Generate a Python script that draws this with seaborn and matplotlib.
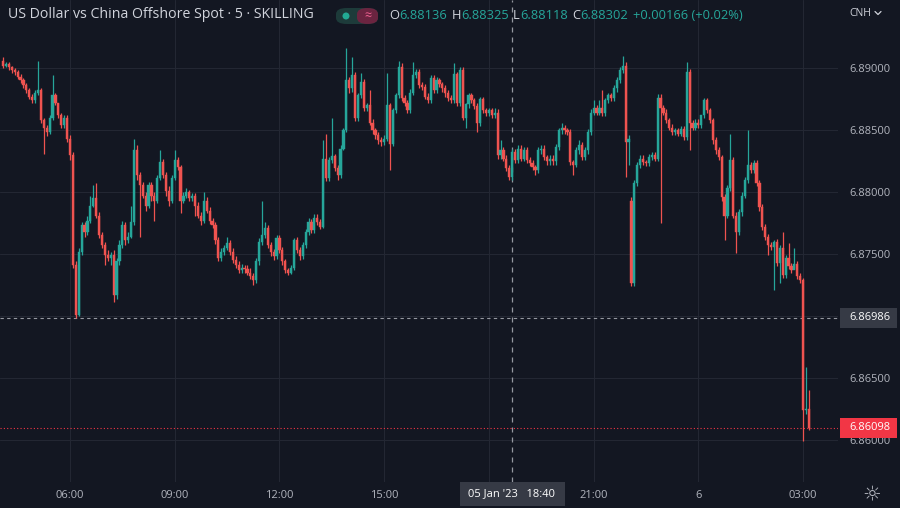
import numpy as np
import pandas as pd
import matplotlib.pyplot as plt
import matplotlib.transforms as mtransforms
from matplotlib.patches import Rectangle, FancyBboxPatch, Ellipse
import seaborn as sns

# USD/CNH 5-minute candles, 05 Jan 2023 04:05 -> 06 Jan 2023 03:10 (one hour per row)
opens = [
    6.8906, 6.8902, 6.8903, 6.8901, 6.8898, 6.8897, 6.8893, 6.8890, 6.8886, 6.8882, 6.8877, 6.8874,
    6.8880, 6.8882, 6.8858, 6.8852, 6.8848, 6.8860, 6.8878, 6.8872, 6.8862, 6.8854, 6.8860, 6.8843,
    6.8830, 6.8741, 6.8701, 6.8752, 6.8773, 6.8768, 6.8777, 6.8789, 6.8795, 6.8781, 6.8765, 6.8757,
    6.8749, 6.8747, 6.8749, 6.8717, 6.8744, 6.8757, 6.8773, 6.8761, 6.8764, 6.8776, 6.8834, 6.8814,
    6.8806, 6.8797, 6.8789, 6.8806, 6.8797, 6.8793, 6.8811, 6.8824, 6.8814, 6.8801, 6.8793, 6.8811,
    6.8826, 6.8820, 6.8793, 6.8797, 6.8800, 6.8795, 6.8797, 6.8789, 6.8781, 6.8777, 6.8793, 6.8785,
    6.8777, 6.8773, 6.8761, 6.8747, 6.8752, 6.8755, 6.8759, 6.8752, 6.8745, 6.8741, 6.8737, 6.8739,
    6.8738, 6.8735, 6.8732, 6.8729, 6.8744, 6.8760, 6.8765, 6.8771, 6.8757, 6.8752, 6.8748, 6.8763,
    6.8753, 6.8744, 6.8737, 6.8735, 6.8739, 6.8761, 6.8753, 6.8748, 6.8757, 6.8768, 6.8776, 6.8769,
    6.8779, 6.8776, 6.8772, 6.8827, 6.8811, 6.8826, 6.8829, 6.8819, 6.8814, 6.8835, 6.8850, 6.8890,
    6.8884, 6.8894, 6.8860, 6.8878, 6.8889, 6.8868, 6.8870, 6.8856, 6.8850, 6.8846, 6.8842, 6.8840,
    6.8843, 6.8870, 6.8839, 6.8866, 6.8878, 6.8901, 6.8876, 6.8872, 6.8866, 6.8880, 6.8894, 6.8897,
    6.8886, 6.8885, 6.8877, 6.8874, 6.8892, 6.8882, 6.8890, 6.8887, 6.8884, 6.8880, 6.8876, 6.8874,
    6.8895, 6.8872, 6.8898, 6.8860, 6.8871, 6.8878, 6.8874, 6.8869, 6.8856, 6.8875, 6.8866, 6.8864,
    6.8866, 6.8862, 6.8864, 6.8830, 6.8834, 6.8827, 6.8819, 6.8812, 6.8832, 6.8826, 6.8835, 6.8827,
    6.8834, 6.8826, 6.8823, 6.8820, 6.8818, 6.8834, 6.8835, 6.8828, 6.8825, 6.8827, 6.8825, 6.8836,
    6.8850, 6.8852, 6.8850, 6.8848, 6.8824, 6.8822, 6.8834, 6.8838, 6.8828, 6.8834, 6.8848, 6.8864,
    6.8868, 6.8864, 6.8868, 6.8864, 6.8874, 6.8878, 6.8876, 6.8884, 6.8890, 6.8898, 6.8902, 6.8840,
    6.8793, 6.8727, 6.8807, 6.8822, 6.8827, 6.8824, 6.8823, 6.8828, 6.8830, 6.8827, 6.8876, 6.8868,
    6.8864, 6.8858, 6.8852, 6.8848, 6.8850, 6.8847, 6.8851, 6.8844, 6.8897, 6.8856, 6.8852, 6.8856,
    6.8854, 6.8862, 6.8874, 6.8866, 6.8858, 6.8842, 6.8834, 6.8828, 6.8796, 6.8781, 6.8803, 6.8826,
    6.8781, 6.8768, 6.8784, 6.8797, 6.8810, 6.8822, 6.8818, 6.8823, 6.8807, 6.8788, 6.8772, 6.8764,
    6.8757, 6.8756, 6.8760, 6.8743, 6.8755, 6.8733, 6.8747, 6.8740, 6.8737, 6.8742, 6.8732, 6.8729,
    6.8624, 6.8625,
]
highs = [
    6.8909, 6.8905, 6.8905, 6.8902, 6.8900, 6.8898, 6.8895, 6.8892, 6.8888, 6.8884, 6.8879, 6.8882,
    6.8906, 6.8884, 6.8860, 6.8854, 6.8862, 6.8894, 6.8880, 6.8872, 6.8864, 6.8862, 6.8862, 6.8846,
    6.8832, 6.8744, 6.8755, 6.8776, 6.8776, 6.8781, 6.8797, 6.8806, 6.8807, 6.8784, 6.8768, 6.8760,
    6.8753, 6.8752, 6.8753, 6.8747, 6.8761, 6.8777, 6.8776, 6.8768, 6.8789, 6.8843, 6.8838, 6.8816,
    6.8808, 6.8800, 6.8808, 6.8808, 6.8800, 6.8814, 6.8834, 6.8827, 6.8816, 6.8805, 6.8814, 6.8834,
    6.8828, 6.8822, 6.8800, 6.8803, 6.8802, 6.8799, 6.8799, 6.8792, 6.8784, 6.8800, 6.8796, 6.8788,
    6.8779, 6.8776, 6.8764, 6.8755, 6.8757, 6.8764, 6.8761, 6.8755, 6.8748, 6.8744, 6.8742, 6.8741,
    6.8741, 6.8739, 6.8735, 6.8747, 6.8763, 6.8793, 6.8776, 6.8773, 6.8760, 6.8754, 6.8765, 6.8765,
    6.8756, 6.8746, 6.8739, 6.8741, 6.8763, 6.8764, 6.8756, 6.8760, 6.8770, 6.8779, 6.8778, 6.8782,
    6.8782, 6.8778, 6.8842, 6.8847, 6.8828, 6.8860, 6.8831, 6.8822, 6.8838, 6.8852, 6.8916, 6.8893,
    6.8909, 6.8897, 6.8880, 6.8896, 6.8891, 6.8872, 6.8882, 6.8859, 6.8852, 6.8848, 6.8844, 6.8846,
    6.8896, 6.8872, 6.8868, 6.8880, 6.8906, 6.8904, 6.8878, 6.8874, 6.8883, 6.8905, 6.8899, 6.8899,
    6.8889, 6.8887, 6.8880, 6.8894, 6.8894, 6.8893, 6.8892, 6.8889, 6.8886, 6.8882, 6.8878, 6.8904,
    6.8897, 6.8901, 6.8901, 6.8872, 6.8880, 6.8880, 6.8876, 6.8872, 6.8877, 6.8877, 6.8868, 6.8868,
    6.8868, 6.8868, 6.8867, 6.8842, 6.8836, 6.8830, 6.8822, 6.8835, 6.8835, 6.8838, 6.8838, 6.8836,
    6.8836, 6.8828, 6.8826, 6.8822, 6.8836, 6.8838, 6.8838, 6.8830, 6.8830, 6.8830, 6.8839, 6.8852,
    6.8856, 6.8854, 6.8852, 6.8851, 6.8826, 6.8836, 6.8842, 6.8840, 6.8836, 6.8851, 6.8867, 6.8874,
    6.8870, 6.8874, 6.8882, 6.8876, 6.8880, 6.8880, 6.8886, 6.8893, 6.8901, 6.8910, 6.8905, 6.8846,
    6.8796, 6.8810, 6.8824, 6.8830, 6.8830, 6.8826, 6.8831, 6.8832, 6.8832, 6.8879, 6.8879, 6.8870,
    6.8867, 6.8860, 6.8855, 6.8852, 6.8852, 6.8853, 6.8853, 6.8905, 6.8899, 6.8858, 6.8859, 6.8859,
    6.8859, 6.8876, 6.8876, 6.8868, 6.8860, 6.8844, 6.8836, 6.8830, 6.8798, 6.8806, 6.8847, 6.8828,
    6.8784, 6.8786, 6.8800, 6.8812, 6.8850, 6.8824, 6.8826, 6.8826, 6.8810, 6.8790, 6.8774, 6.8766,
    6.8760, 6.8761, 6.8762, 6.8757, 6.8768, 6.8749, 6.8759, 6.8743, 6.8755, 6.8744, 6.8735, 6.8731,
    6.8659, 6.8640,
]
lows = [
    6.8900, 6.8901, 6.8898, 6.8896, 6.8894, 6.8891, 6.8888, 6.8884, 6.8880, 6.8875, 6.8872, 6.8872,
    6.8878, 6.8856, 6.8831, 6.8845, 6.8847, 6.8858, 6.8870, 6.8860, 6.8852, 6.8852, 6.8840, 6.8826,
    6.8739, 6.86986, 6.8700, 6.8749, 6.8764, 6.8765, 6.8775, 6.8788, 6.8779, 6.8763, 6.8755, 6.8741,
    6.8744, 6.8741, 6.8711, 6.8714, 6.8741, 6.8755, 6.8757, 6.8759, 6.8763, 6.8773, 6.8810, 6.8764,
    6.8795, 6.8785, 6.8787, 6.8793, 6.8777, 6.8791, 6.8810, 6.8811, 6.8797, 6.8789, 6.8791, 6.8810,
    6.8818, 6.8783, 6.8791, 6.8795, 6.8793, 6.8793, 6.8781, 6.8779, 6.8773, 6.8775, 6.8783, 6.8774,
    6.8771, 6.8758, 6.8744, 6.8744, 6.8749, 6.8753, 6.8749, 6.8743, 6.8739, 6.8735, 6.8735, 6.8735,
    6.8733, 6.8730, 6.8725, 6.8727, 6.8741, 6.8757, 6.8763, 6.8755, 6.8748, 6.8745, 6.8746, 6.8751,
    6.8741, 6.8735, 6.8733, 6.8734, 6.8737, 6.8751, 6.8745, 6.8746, 6.8755, 6.8765, 6.8767, 6.8767,
    6.8773, 6.8770, 6.8771, 6.8809, 6.8809, 6.8823, 6.8817, 6.8810, 6.8811, 6.8834, 6.8848, 6.8880,
    6.8881, 6.8857, 6.8857, 6.8876, 6.8865, 6.8865, 6.8854, 6.8847, 6.8843, 6.8839, 6.8837, 6.8838,
    6.8841, 6.8818, 6.8837, 6.8864, 6.8876, 6.8873, 6.8869, 6.8864, 6.8864, 6.8878, 6.8892, 6.8884,
    6.8882, 6.8875, 6.8872, 6.8872, 6.8880, 6.8880, 6.8885, 6.8881, 6.8877, 6.8873, 6.8872, 6.8872,
    6.8869, 6.8869, 6.8858, 6.8852, 6.8868, 6.8872, 6.8867, 6.8848, 6.8853, 6.8864, 6.8861, 6.8861,
    6.8860, 6.8860, 6.8827, 6.8827, 6.8825, 6.8817, 6.8810, 6.8810, 6.8823, 6.8823, 6.8825, 6.8825,
    6.8823, 6.8821, 6.8818, 6.8814, 6.8815, 6.8831, 6.8826, 6.8822, 6.8822, 6.8822, 6.8822, 6.8834,
    6.8847, 6.8847, 6.8846, 6.8822, 6.8814, 6.8820, 6.8831, 6.8826, 6.8826, 6.8831, 6.8846, 6.8862,
    6.8862, 6.8862, 6.8861, 6.8861, 6.8872, 6.8873, 6.8873, 6.8881, 6.8888, 6.8896, 6.8812, 6.8822,
    6.8724, 6.8724, 6.8805, 6.8819, 6.8822, 6.8821, 6.8821, 6.8826, 6.8825, 6.8825, 6.8775, 6.8862,
    6.8856, 6.8850, 6.8846, 6.8846, 6.8845, 6.8845, 6.8842, 6.8842, 6.8834, 6.8850, 6.8850, 6.8852,
    6.8852, 6.8860, 6.8864, 6.8856, 6.8839, 6.8831, 6.8826, 6.8793, 6.8761, 6.8779, 6.8801, 6.8779,
    6.8751, 6.8765, 6.8781, 6.8795, 6.8807, 6.8815, 6.8815, 6.8805, 6.8785, 6.8769, 6.8761, 6.8749,
    6.8753, 6.8721, 6.8740, 6.8727, 6.8731, 6.8731, 6.8738, 6.8735, 6.8739, 6.8730, 6.8727, 6.8599,
    6.8621, 6.8608,
]
closes = [
    6.8902, 6.8903, 6.8901, 6.8898, 6.8897, 6.8893, 6.8890, 6.8886, 6.8882, 6.8877, 6.8874, 6.8880,
    6.8882, 6.8858, 6.8852, 6.8848, 6.8860, 6.8878, 6.8872, 6.8862, 6.8854, 6.8860, 6.8843, 6.8830,
    6.8741, 6.8701, 6.8752, 6.8773, 6.8768, 6.8777, 6.8789, 6.8795, 6.8781, 6.8765, 6.8757, 6.8749,
    6.8747, 6.8749, 6.8717, 6.8744, 6.8757, 6.8773, 6.8761, 6.8764, 6.8776, 6.8834, 6.8814, 6.8806,
    6.8797, 6.8789, 6.8806, 6.8797, 6.8793, 6.8811, 6.8824, 6.8814, 6.8801, 6.8793, 6.8811, 6.8826,
    6.8820, 6.8793, 6.8797, 6.8800, 6.8795, 6.8797, 6.8789, 6.8781, 6.8777, 6.8793, 6.8785, 6.8777,
    6.8773, 6.8761, 6.8747, 6.8752, 6.8755, 6.8759, 6.8752, 6.8745, 6.8741, 6.8737, 6.8739, 6.8738,
    6.8735, 6.8732, 6.8729, 6.8744, 6.8760, 6.8765, 6.8771, 6.8757, 6.8752, 6.8748, 6.8763, 6.8753,
    6.8744, 6.8737, 6.8735, 6.8739, 6.8761, 6.8753, 6.8748, 6.8757, 6.8768, 6.8776, 6.8769, 6.8779,
    6.8776, 6.8772, 6.8827, 6.8811, 6.8826, 6.8829, 6.8819, 6.8814, 6.8835, 6.8850, 6.8890, 6.8884,
    6.8894, 6.8860, 6.8878, 6.8889, 6.8868, 6.8870, 6.8856, 6.8850, 6.8846, 6.8842, 6.8840, 6.8843,
    6.8870, 6.8839, 6.8866, 6.8878, 6.8901, 6.8876, 6.8872, 6.8866, 6.8880, 6.8894, 6.8897, 6.8886,
    6.8885, 6.8877, 6.8874, 6.8892, 6.8882, 6.8890, 6.8887, 6.8884, 6.8880, 6.8876, 6.8874, 6.8895,
    6.8872, 6.8898, 6.8860, 6.8871, 6.8878, 6.8874, 6.8869, 6.8856, 6.8875, 6.8866, 6.8864, 6.8866,
    6.8862, 6.8864, 6.8830, 6.8834, 6.8827, 6.8819, 6.8812, 6.8832, 6.8826, 6.8835, 6.8827, 6.8834,
    6.8826, 6.8823, 6.8820, 6.8818, 6.8834, 6.8835, 6.8828, 6.8825, 6.8827, 6.8825, 6.8836, 6.8850,
    6.8852, 6.8850, 6.8848, 6.8824, 6.8822, 6.8834, 6.8838, 6.8828, 6.8834, 6.8848, 6.8864, 6.8868,
    6.8864, 6.8868, 6.8864, 6.8874, 6.8878, 6.8876, 6.8884, 6.8890, 6.8898, 6.8902, 6.8840, 6.8843,
    6.8727, 6.8807, 6.8822, 6.8827, 6.8824, 6.8823, 6.8828, 6.8830, 6.8827, 6.8876, 6.8868, 6.8864,
    6.8858, 6.8852, 6.8848, 6.8850, 6.8847, 6.8851, 6.8844, 6.8897, 6.8856, 6.8852, 6.8856, 6.8854,
    6.8862, 6.8874, 6.8866, 6.8858, 6.8842, 6.8834, 6.8828, 6.8796, 6.8781, 6.8803, 6.8826, 6.8781,
    6.8768, 6.8784, 6.8797, 6.8810, 6.8822, 6.8818, 6.8823, 6.8807, 6.8788, 6.8772, 6.8764, 6.8757,
    6.8756, 6.8760, 6.8743, 6.8755, 6.8733, 6.8747, 6.8740, 6.8737, 6.8742, 6.8732, 6.8729, 6.8624,
    6.8625, 6.86098,
]
start_time = "2023-01-05 04:05"
crosshair_time = "2023-01-05 18:40"
crosshair_label = "05 Jan '23   18:40"
price_ticks = [6.86, 6.865, 6.87, 6.875, 6.88, 6.885, 6.89]
low_marker = 6.86986
last_price = 6.86098
title = "US Dollar vs China Offshore Spot \u00b7 5 \u00b7 SKILLING"
legend_keys = ["O", "H", "L", "C"]
legend_vals = ["6.88136", "6.88325", "6.88118", "6.88302"]
legend_change = "+0.00166 (+0.02%)"

BG = "#131722"
GRID = "#232733"
TXT = "#d1d4dc"
AXT = "#b2b5be"
UP = "#26a69a"
DOWN = "#ef5350"
LASTRED = "#f23645"

sns.set_theme(style="dark", rc={"axes.facecolor": BG, "figure.facecolor": BG})
plt.rcParams["font.family"] = ["Open Sans", "DejaVu Sans"]

df = pd.DataFrame({"open": opens, "high": highs, "low": lows, "close": closes})
df["time"] = pd.date_range(start_time, periods=len(df), freq="5min")
df["pos"] = np.arange(len(df))
colors = np.where(df["close"] >= df["open"], UP, DOWN)

W, H = 900, 508
fig = plt.figure(figsize=(9, 5.08), dpi=100)
ax = fig.add_axes([0, 26 / H, 838 / W, 482 / H])
ax.set_facecolor(BG)

ax.vlines(df["pos"], df["low"], df["high"], colors=colors, linewidth=0.9, zorder=3)
ax.bar(df["pos"], df["close"] - df["open"], bottom=df["open"], width=0.75,
       color=colors, edgecolor=colors, linewidth=0.3, zorder=4)

ax.set_xlim(-1.07, 287.0)
ax.set_ylim(6.856613, 6.895484)

# time axis
hours = df[(df["time"].dt.minute == 0) & (df["time"].dt.hour % 3 == 0)]
tlabels = []
for t in hours["time"]:
    if t.hour == 0:
        tlabels.append(str(t.day))
    elif t.hour == 18:
        tlabels.append("")
    else:
        tlabels.append(t.strftime("%H:%M"))
ax.set_xticks(hours["pos"])
ax.set_xticklabels(tlabels)

# price axis
ax.yaxis.tick_right()
ax.set_yticks(price_ticks)
ax.set_yticklabels(["" if abs(p - 6.87) < 1e-9 else f"{p:.5f}" for p in price_ticks])
ax.tick_params(axis="x", colors=AXT, labelsize=8, length=0, pad=6)
ax.tick_params(axis="y", colors=AXT, labelsize=8, length=0, pad=8)
ax.grid(True, color=GRID, linewidth=0.8)
for s in ax.spines.values():
    s.set_visible(False)

# reference lines
ax.axhline(low_marker, color="#9598a1", linewidth=0.8, dashes=(3, 3), zorder=2)
ax.axhline(last_price, color=LASTRED, linewidth=0.8, linestyle=(0, (1, 2)), zorder=2)
cross_pos = df.loc[df["time"] == pd.Timestamp(crosshair_time), "pos"].iloc[0]
ax.axvline(cross_pos, color="#9598a1", linewidth=0.9, dashes=(4, 4), zorder=2)

# price labels on the right axis
blend = mtransforms.blended_transform_factory(fig.transFigure, ax.transData)
box_h = 20 / 12400
for val, fc in [(low_marker, "#363a45"), (last_price, LASTRED)]:
    fig.patches.append(Rectangle((840 / W, val - box_h / 2), 57 / W, box_h,
                                 transform=blend, facecolor=fc, edgecolor="none", zorder=5))
    fig.text(849 / W, val, f"{val:.5f}", transform=blend, color="white",
             fontsize=8, va="center", ha="left", zorder=6)

# crosshair time label
fig.patches.append(Rectangle((460 / W, 2 / H), 105 / W, 24 / H, transform=fig.transFigure,
                             facecolor="#363a45", edgecolor="none", zorder=5))
fig.text(512 / W, 14 / H, crosshair_label, color="white", fontsize=8,
         ha="center", va="center", zorder=6)

# header
fig.text(8 / W, 1 - 15 / H, title, color=TXT, fontsize=10.2, va="center")
fig.patches.append(FancyBboxPatch((336 / W, 1 - 24 / H), 42 / W, 16 / H,
                                  boxstyle="round,pad=0,rounding_size=0.012",
                                  transform=fig.transFigure, facecolor="#1d3b3a",
                                  edgecolor="none", zorder=5))
fig.patches.append(FancyBboxPatch((357 / W, 1 - 24 / H), 21 / W, 16 / H,
                                  boxstyle="round,pad=0,rounding_size=0.012",
                                  transform=fig.transFigure, facecolor="#6b2440",
                                  edgecolor="none", zorder=6))
fig.patches.append(Ellipse((346 / W, 1 - 16 / H), 7 / W, 7 / H, transform=fig.transFigure,
                           facecolor="#22ab94", edgecolor="none", zorder=7))
fig.text(367.5 / W, 1 - 16 / H, "\u2248", color="#f06292", fontsize=9,
         ha="center", va="center", zorder=7)

pieces = []
for k, v in zip(legend_keys, legend_vals):
    pieces.append((k, TXT, 3.0))
    pieces.append((v, UP, 0.3))
pieces.append((legend_change, UP, 3.5))
prev = fig.text(389 / W, 1 - 15.5 / H, pieces[0][0], color=pieces[0][1],
                fontsize=9.3, va="center")
for s, c, gap in pieces[1:]:
    prev = ax.annotate(s, xy=(1, 0.5), xycoords=prev, xytext=(gap, 0),
                       textcoords="offset points", va="center", ha="left",
                       color=c, fontsize=9.3, annotation_clip=False)

fig.text(849 / W, 1 - 13 / H, "CNH", color=TXT, fontsize=7.5, va="center")
fig.add_artist(plt.Line2D([875 / W, 878 / W, 881 / W], [1 - 11.5 / H, 1 - 14.5 / H, 1 - 11.5 / H],
                          transform=fig.transFigure, color=TXT, linewidth=0.9))
fig.text(872 / W, 14 / H, "\u263c", color=AXT, fontsize=15, ha="center", va="center",
         family=["DejaVu Sans"])

fig.savefig("out.png", dpi=100, facecolor=BG)
